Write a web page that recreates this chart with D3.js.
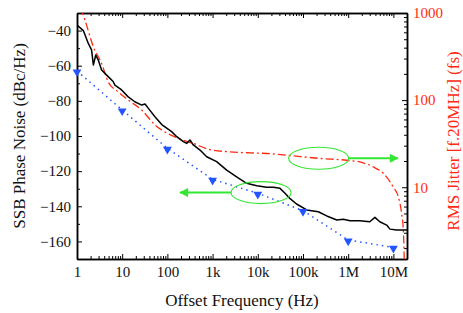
<!DOCTYPE html>
<html>
<head>
<meta charset="utf-8">
<script src="https://cdn.jsdelivr.net/npm/d3@7"></script>
<style>
  body { margin: 0; background: #fff; }
  svg { display: block; font-family: 'Liberation Serif', 'Times New Roman', serif; }
</style>
</head>
<body>
<svg id="chart" width="463" height="313"></svg>
<script>
/* global d3 */
const freqTicks = [1, 10, 100, 1e3, 1e4, 1e5, 1e6, 1e7]
const freqTickLabels = ['1', '10', '100', '1k', '10k', '100k', '1M', '10M']
const noiseTicks = [-40, -60, -80, -100, -120, -140, -160]
const noiseMinorTicks = [-50, -70, -90, -110, -130, -150]
const jitterTicks = [10, 100, 1000]

// measured phase noise (black solid)
const measFreq = [1, 1.38, 1.78, 2.1, 2.3, 2.6, 2.96, 3.5, 4.9, 6.3, 6.9, 9.7, 13.4, 19, 27, 32, 38, 53, 75,
  124, 161, 225, 267, 316, 375, 527, 740, 1230, 2050, 3400, 5650, 9500, 15700, 22000, 31000, 40000,
  51000, 72000, 121000, 218000, 335000, 560000, 780000, 1.1e6, 1.8e6, 3e6, 3.9e6, 5e6, 7.1e6, 8.4e6,
  1.18e7, 1.66e7, 2e7]
const measNoise = [-36.8, -40, -47.3, -51, -59.6, -53.9, -56.8, -62.4, -66.2, -69, -71, -73.8, -77.6, -80.5,
  -82.4, -81.8, -84.3, -89, -93.5, -97.5, -100.4, -103.2, -104.2, -102.3, -105.1, -108, -111.8, -114.6,
  -119.4, -123.2, -126.9, -128.3, -129.2, -129.2, -129.8, -132.6, -135.5, -138.7, -142.1, -143.1, -145.5,
  -147.8, -147.4, -148.2, -148.2, -148.8, -146.3, -148.8, -150.7, -153, -153.5, -153.5, -153.5]

// calculated phase noise (blue dotted, triangles)
const calcFreq = [1, 10, 100, 1e3, 1e4, 1e5, 1e6, 1e7]
const calcNoise = [-63, -85.2, -107, -124.7, -132.6, -142.5, -159.2, -163.4]

// integrated rms jitter (red dash-dot, right axis)
const jitterFreq = [1.2, 1.5, 2.3, 3.5, 4.9, 8.2, 13.6, 27, 53, 105, 174, 225, 375, 880, 2400, 6700, 15700,
  43000, 240000, 930000, 1.8e6, 3.6e6, 6e6, 1e7, 1.29e7, 1.52e7, 1.66e7, 1.72e7, 1.75e7]
const jitterFs = [1150, 830, 410, 264, 162, 124, 100, 77, 52, 41, 36.5, 34.7, 31.8, 27, 25.5, 24.8, 24.4,
  23.3, 21.4, 20.4, 19.5, 17.1, 14.4, 10, 7.7, 5, 3.2, 1.9, 1.2]

// annotation ellipses and where their arrows point
const ellipseFreq = [11800, 222000]
const ellipseNoise = [-132.2, -112.7]
const arrowTipFreq = [190, 1.26e7]

const red = '#ff2a10'
const blue = '#2255ff'
const green = '#33e633'

const svg = d3.select('#chart')
const margin = { left: 77, right: 56, top: 13, bottom: 54 }
const width = +svg.attr('width')
const height = +svg.attr('height')
const innerWidth = width - margin.left - margin.right
const innerHeight = height - margin.top - margin.bottom

const x = d3.scaleLog().domain([1, 2e7]).range([0, innerWidth])
const y = d3.scaleLinear().domain([-170, -30]).range([innerHeight, 0])
const yR = d3.scaleLog().domain([1.5, 1000]).range([innerHeight, 0])

const g = svg.append('g').attr('transform', `translate(${margin.left},${margin.top})`)

g.append('clipPath').attr('id', 'clip')
  .append('rect').attr('width', innerWidth).attr('height', innerHeight)

let minorFreq = []
for (let d = 1; d <= 1e6; d *= 10) {
  for (let m = 2; m <= 9; m++) minorFreq.push(d * m)
}
let minorJitter = []
for (let d = 1; d <= 100; d *= 10) {
  for (let m = 2; m <= 9; m++) minorJitter.push(d * m)
}

// axes: ticks point inward on all four sides
g.append('g').attr('class', 'axis')
  .attr('transform', `translate(0,${innerHeight})`)
  .call(d3.axisBottom(x).tickValues(freqTicks).tickFormat((d, i) => freqTickLabels[i])
    .tickSizeInner(-5).tickSizeOuter(0).tickPadding(7))
g.append('g').attr('class', 'axis minor')
  .attr('transform', `translate(0,${innerHeight})`)
  .call(d3.axisBottom(x).tickValues(minorFreq).tickSizeInner(-3).tickSizeOuter(0))
g.append('g').attr('class', 'axis minor')
  .call(d3.axisTop(x).tickValues(freqTicks).tickSizeInner(-5).tickSizeOuter(0))
g.append('g').attr('class', 'axis minor')
  .call(d3.axisTop(x).tickValues(minorFreq).tickSizeInner(-3).tickSizeOuter(0))

g.append('g').attr('class', 'axis')
  .call(d3.axisLeft(y).tickValues(noiseTicks).tickSizeInner(-5).tickSizeOuter(0).tickPadding(6))
g.append('g').attr('class', 'axis minor')
  .call(d3.axisLeft(y).tickValues(noiseMinorTicks).tickSizeInner(-3).tickSizeOuter(0))

g.append('g').attr('class', 'axis right')
  .attr('transform', `translate(${innerWidth},0)`)
  .call(d3.axisRight(yR).tickValues(jitterTicks).tickFormat(d3.format('d'))
    .tickSizeInner(-5).tickSizeOuter(0).tickPadding(6))
g.append('g').attr('class', 'axis minor')
  .attr('transform', `translate(${innerWidth},0)`)
  .call(d3.axisRight(yR).tickValues(minorJitter).tickSizeInner(-3).tickSizeOuter(0))

// top edge keeps its line, the other minor groups only add ticks
g.selectAll('.minor text').remove()
g.selectAll('.axis .domain').attr('stroke', '#000').attr('stroke-width', 1.5)
g.selectAll('.axis .tick line').attr('stroke', '#000').attr('stroke-width', 1)
g.selectAll('.axis text').attr('font-family', 'Liberation Serif').attr('font-size', 15).attr('fill', '#111')
g.selectAll('.right text').attr('fill', red)

const plot = g.append('g').attr('clip-path', 'url(#clip)')

const measData = measFreq.map((f, i) => [f, measNoise[i]])
const calcData = calcFreq.map((f, i) => [f, calcNoise[i]])
const jitterData = jitterFreq.map((f, i) => [f, jitterFs[i]])

plot.append('path')
  .datum(jitterData)
  .attr('fill', 'none')
  .attr('stroke', red)
  .attr('stroke-width', 1.3)
  .attr('stroke-dasharray', '8,3,2,3')
  .attr('d', d3.line().x(d => x(d[0])).y(d => yR(d[1])).curve(d3.curveMonotoneX))

plot.append('path')
  .datum(calcData)
  .attr('fill', 'none')
  .attr('stroke', blue)
  .attr('stroke-width', 1.5)
  .attr('stroke-dasharray', '1.5,4')
  .attr('d', d3.line().x(d => x(d[0])).y(d => y(d[1])))

plot.append('path')
  .datum(measData)
  .attr('fill', 'none')
  .attr('stroke', '#000')
  .attr('stroke-width', 1.5)
  .attr('stroke-linejoin', 'round')
  .attr('d', d3.line().x(d => x(d[0])).y(d => y(d[1])))

g.selectAll('.tri').data(calcData)
  .enter().append('path')
  .attr('class', 'tri')
  .attr('transform', d => `translate(${x(d[0])},${y(d[1]) + 1}) rotate(180)`)
  .attr('d', d3.symbol().type(d3.symbolTriangle).size(34))
  .attr('fill', blue)

// green annotations
svg.append('defs').append('marker')
  .attr('id', 'arrow')
  .attr('viewBox', '0 0 10 10')
  .attr('refX', 9).attr('refY', 5)
  .attr('markerWidth', 5).attr('markerHeight', 4.5)
  .attr('orient', 'auto')
  .attr('markerUnits', 'strokeWidth')
  .append('path').attr('d', 'M0,0L10,5L0,10Z').attr('fill', green)

const rx = 30
const ry = 11
ellipseFreq.forEach((f, i) => {
  let cx = x(f)
  let cy = y(ellipseNoise[i])
  g.append('ellipse')
    .attr('cx', cx).attr('cy', cy).attr('rx', rx).attr('ry', ry)
    .attr('fill', 'none').attr('stroke', green).attr('stroke-width', 1.1)
  let startX = arrowTipFreq[i] < f ? cx - rx : cx + rx
  g.append('line')
    .attr('x1', startX).attr('y1', cy)
    .attr('x2', x(arrowTipFreq[i])).attr('y2', cy)
    .attr('stroke', green).attr('stroke-width', 2)
    .attr('marker-end', 'url(#arrow)')
})

// axis titles
svg.append('text')
  .attr('x', margin.left + innerWidth / 2)
  .attr('y', 306)
  .attr('text-anchor', 'middle')
  .attr('font-size', 17)
  .attr('fill', '#111')
  .text('Offset Frequency (Hz)')

svg.append('text')
  .attr('transform', `translate(25,${margin.top + innerHeight / 2}) rotate(-90)`)
  .attr('text-anchor', 'middle')
  .attr('font-size', 17)
  .attr('fill', '#111')
  .text('SSB Phase Noise (dBc/Hz)')

svg.append('text')
  .attr('transform', `translate(459,${margin.top + innerHeight / 2 + 5}) rotate(-90)`)
  .attr('text-anchor', 'middle')
  .attr('font-size', 17)
  .attr('fill', red)
  .text('RMS Jitter [f.20MHz] (fs)')
</script>
</body>
</html>
